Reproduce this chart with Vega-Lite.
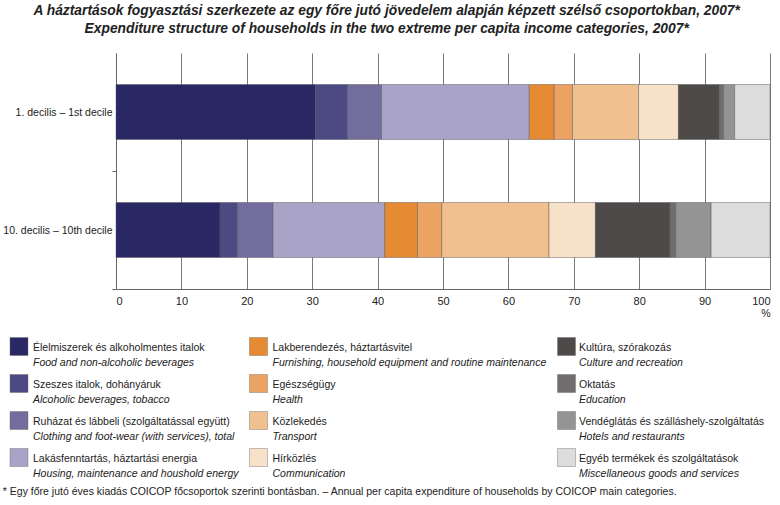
{
  "$schema": "https://vega.github.io/schema/vega-lite/v6.json",
  "padding": {"left": 2, "top": 4, "right": 2, "bottom": 4},
  "datasets": {
    "shares": [
      {"decile": "1. decilis – 1st decile", "coicop": 1, "category": "Food and non-alcoholic beverages", "share": 30.5},
      {"decile": "1. decilis – 1st decile", "coicop": 2, "category": "Alcoholic beverages, tobacco", "share": 4.9},
      {"decile": "1. decilis – 1st decile", "coicop": 3, "category": "Clothing and foot-wear (with services), total", "share": 5.2},
      {"decile": "1. decilis – 1st decile", "coicop": 4, "category": "Housing, maintenance and houshold energy", "share": 22.6},
      {"decile": "1. decilis – 1st decile", "coicop": 5, "category": "Furnishing, household equipment and routine maintenance", "share": 3.8},
      {"decile": "1. decilis – 1st decile", "coicop": 6, "category": "Health", "share": 2.8},
      {"decile": "1. decilis – 1st decile", "coicop": 7, "category": "Transport", "share": 10.1},
      {"decile": "1. decilis – 1st decile", "coicop": 8, "category": "Communication", "share": 6.1},
      {"decile": "1. decilis – 1st decile", "coicop": 9, "category": "Culture and recreation", "share": 6.2},
      {"decile": "1. decilis – 1st decile", "coicop": 10, "category": "Education", "share": 0.7},
      {"decile": "1. decilis – 1st decile", "coicop": 11, "category": "Hotels and restaurants", "share": 1.7},
      {"decile": "1. decilis – 1st decile", "coicop": 12, "category": "Miscellaneous goods and services", "share": 5.4},
      {"decile": "10. decilis – 10th decile", "coicop": 1, "category": "Food and non-alcoholic beverages", "share": 15.9},
      {"decile": "10. decilis – 10th decile", "coicop": 2, "category": "Alcoholic beverages, tobacco", "share": 2.7},
      {"decile": "10. decilis – 10th decile", "coicop": 3, "category": "Clothing and foot-wear (with services), total", "share": 5.4},
      {"decile": "10. decilis – 10th decile", "coicop": 4, "category": "Housing, maintenance and houshold energy", "share": 17.1},
      {"decile": "10. decilis – 10th decile", "coicop": 5, "category": "Furnishing, household equipment and routine maintenance", "share": 5.0},
      {"decile": "10. decilis – 10th decile", "coicop": 6, "category": "Health", "share": 3.7},
      {"decile": "10. decilis – 10th decile", "coicop": 7, "category": "Transport", "share": 16.4},
      {"decile": "10. decilis – 10th decile", "coicop": 8, "category": "Communication", "share": 7.1},
      {"decile": "10. decilis – 10th decile", "coicop": 9, "category": "Culture and recreation", "share": 11.4},
      {"decile": "10. decilis – 10th decile", "coicop": 10, "category": "Education", "share": 0.9},
      {"decile": "10. decilis – 10th decile", "coicop": 11, "category": "Hotels and restaurants", "share": 5.4},
      {"decile": "10. decilis – 10th decile", "coicop": 12, "category": "Miscellaneous goods and services", "share": 9.0}
    ],
    "cats": [
      {"category": "Food and non-alcoholic beverages", "hu": "Élelmiszerek és alkoholmentes italok"},
      {"category": "Alcoholic beverages, tobacco", "hu": "Szeszes italok, dohányáruk"},
      {"category": "Clothing and foot-wear (with services), total", "hu": "Ruházat és lábbeli (szolgáltatással együtt)"},
      {"category": "Housing, maintenance and houshold energy", "hu": "Lakásfenntartás, háztartási energia"},
      {"category": "Furnishing, household equipment and routine maintenance", "hu": "Lakberendezés, háztartásvitel"},
      {"category": "Health", "hu": "Egészségügy"},
      {"category": "Transport", "hu": "Közlekedés"},
      {"category": "Communication", "hu": "Hírközlés"},
      {"category": "Culture and recreation", "hu": "Kultúra, szórakozás"},
      {"category": "Education", "hu": "Oktatás"},
      {"category": "Hotels and restaurants", "hu": "Vendéglátás és szálláshely-szolgáltatás"},
      {"category": "Miscellaneous goods and services", "hu": "Egyéb termékek és szolgáltatások"}
    ]
  },
  "title": {
    "text": "* Egy főre jutó éves kiadás COICOP főcsoportok szerinti bontásban. – Annual per capita expenditure of households by COICOP main categories.",
    "orient": "bottom",
    "anchor": "start",
    "frame": "bounds",
    "font": "Liberation Sans",
    "fontSize": 10.5,
    "fontWeight": "normal",
    "color": "#222222",
    "offset": 8
  },
  "spacing": 9,
  "vconcat": [
    {
      "width": 654,
      "height": 236,
      "title": {
        "text": [
          "A háztartások fogyasztási szerkezete az egy főre jutó jövedelem alapján képzett szélső csoportokban, 2007*",
          "Expenditure structure of households in the two extreme per capita income categories, 2007*"
        ],
        "anchor": "middle",
        "frame": "bounds",
        "font": "Liberation Sans",
        "fontSize": 13.8,
        "fontWeight": "bold",
        "fontStyle": "italic",
        "color": "#222222",
        "lineHeight": 18,
        "offset": 17
      },
      "data": {"name": "shares"},
      "mark": {"type": "bar", "stroke": "#555555", "strokeOpacity": 0.45, "strokeWidth": 1},
      "encoding": {
        "y": {
          "field": "decile",
          "type": "nominal",
          "sort": ["1. decilis – 1st decile", "10. decilis – 10th decile"],
          "scale": {"paddingInner": 0.534, "paddingOuter": 0.267},
          "axis": {
            "title": null,
            "tickSize": 4,
            "tickOffset": 59,
            "labelOffset": -59,
            "labelPadding": 0,
            "labelFontSize": 10.5,
            "domainColor": "#666666",
            "tickColor": "#666666"
          }
        },
        "x": {
          "field": "share",
          "type": "quantitative",
          "stack": "zero",
          "scale": {"domain": [0, 100], "nice": false},
          "axis": {
            "values": [0, 10, 20, 30, 40, 50, 60, 70, 80, 90, 100],
            "title": "%",
            "titleAnchor": "end",
            "titleFontWeight": "normal",
            "titleFontSize": 10.5,
            "titlePadding": 2,
            "ticks": false,
            "labelPadding": 6,
            "grid": true,
            "gridColor": "#7a7a7a",
            "gridWidth": 1,
            "domainColor": "#666666"
          }
        },
        "order": {"field": "coicop", "type": "quantitative", "sort": "ascending"},
        "color": {
          "field": "category",
          "type": "nominal",
          "scale": {
            "domain": [
              "Food and non-alcoholic beverages", "Alcoholic beverages, tobacco", "Clothing and foot-wear (with services), total", "Housing, maintenance and houshold energy",
              "Furnishing, household equipment and routine maintenance", "Health", "Transport", "Communication",
              "Culture and recreation", "Education", "Hotels and restaurants", "Miscellaneous goods and services"
            ],
            "range": ["#2a2765", "#4d4982", "#736d9d", "#a9a3c8", "#e68b33", "#eba262", "#f0c08e", "#f8e1c9", "#4e4a49", "#6f6d6d", "#959494", "#dcdcdc"]
          },
          "legend": null
        }
      }
    },
    {
      "spacing": 1,
      "hconcat": [
        {
          "width": 2,
          "height": 148,
          "data": {"name": "cats"},
          "transform": [{"filter": {"field": "category", "oneOf": ["Food and non-alcoholic beverages", "Alcoholic beverages, tobacco", "Clothing and foot-wear (with services), total", "Housing, maintenance and houshold energy"]}}],
          "encoding": {
            "y": {"field": "category", "type": "nominal", "sort": ["Food and non-alcoholic beverages", "Alcoholic beverages, tobacco", "Clothing and foot-wear (with services), total", "Housing, maintenance and houshold energy"], "scale": {"type": "point", "padding": 0.5}, "axis": null}
          },
          "layer": [
            {
              "mark": {"type": "square", "size": 324, "xOffset": -98, "filled": true, "opacity": 1, "stroke": "#666666", "strokeOpacity": 0.5, "strokeWidth": 0.8},
              "encoding": {
                "color": {"field": "category", "type": "nominal", "legend": null,
                  "scale": {
                    "domain": ["Food and non-alcoholic beverages", "Alcoholic beverages, tobacco", "Clothing and foot-wear (with services), total", "Housing, maintenance and houshold energy", "Furnishing, household equipment and routine maintenance", "Health", "Transport", "Communication", "Culture and recreation", "Education", "Hotels and restaurants", "Miscellaneous goods and services"],
                    "range": ["#2a2765", "#4d4982", "#736d9d", "#a9a3c8", "#e68b33", "#eba262", "#f0c08e", "#f8e1c9", "#4e4a49", "#6f6d6d", "#959494", "#dcdcdc"]
                  }
                }
              }
            },
            {
              "mark": {"type": "text", "align": "left", "baseline": "middle", "dx": -84, "dy": 1, "fontSize": 10.5, "color": "#222222"},
              "encoding": {"text": {"field": "hu"}}
            },
            {
              "mark": {"type": "text", "align": "left", "baseline": "middle", "dx": -84, "dy": 16, "fontSize": 10.5, "fontStyle": "italic", "color": "#222222"},
              "encoding": {"text": {"field": "category"}}
            }
          ]
        },
        {
          "width": 37,
          "height": 148,
          "data": {"name": "cats"},
          "transform": [{"filter": {"field": "category", "oneOf": ["Furnishing, household equipment and routine maintenance", "Health", "Transport", "Communication"]}}],
          "encoding": {
            "y": {"field": "category", "type": "nominal", "sort": ["Furnishing, household equipment and routine maintenance", "Health", "Transport", "Communication"], "scale": {"type": "point", "padding": 0.5}, "axis": null}
          },
          "layer": [
            {
              "mark": {"type": "square", "size": 324, "filled": true, "opacity": 1, "stroke": "#666666", "strokeOpacity": 0.5, "strokeWidth": 0.8},
              "encoding": {
                "color": {"field": "category", "type": "nominal", "legend": null,
                  "scale": {
                    "domain": ["Food and non-alcoholic beverages", "Alcoholic beverages, tobacco", "Clothing and foot-wear (with services), total", "Housing, maintenance and houshold energy", "Furnishing, household equipment and routine maintenance", "Health", "Transport", "Communication", "Culture and recreation", "Education", "Hotels and restaurants", "Miscellaneous goods and services"],
                    "range": ["#2a2765", "#4d4982", "#736d9d", "#a9a3c8", "#e68b33", "#eba262", "#f0c08e", "#f8e1c9", "#4e4a49", "#6f6d6d", "#959494", "#dcdcdc"]
                  }
                }
              }
            },
            {
              "mark": {"type": "text", "align": "left", "baseline": "middle", "dx": 14, "dy": 1, "fontSize": 10.5, "color": "#222222"},
              "encoding": {"text": {"field": "hu"}}
            },
            {
              "mark": {"type": "text", "align": "left", "baseline": "middle", "dx": 14, "dy": 16, "fontSize": 10.5, "fontStyle": "italic", "color": "#222222"},
              "encoding": {"text": {"field": "category"}}
            }
          ]
        },
        {
          "width": 37,
          "height": 148,
          "data": {"name": "cats"},
          "transform": [{"filter": {"field": "category", "oneOf": ["Culture and recreation", "Education", "Hotels and restaurants", "Miscellaneous goods and services"]}}],
          "encoding": {
            "y": {"field": "category", "type": "nominal", "sort": ["Culture and recreation", "Education", "Hotels and restaurants", "Miscellaneous goods and services"], "scale": {"type": "point", "padding": 0.5}, "axis": null}
          },
          "layer": [
            {
              "mark": {"type": "square", "size": 324, "filled": true, "opacity": 1, "stroke": "#666666", "strokeOpacity": 0.5, "strokeWidth": 0.8},
              "encoding": {
                "color": {"field": "category", "type": "nominal", "legend": null,
                  "scale": {
                    "domain": ["Food and non-alcoholic beverages", "Alcoholic beverages, tobacco", "Clothing and foot-wear (with services), total", "Housing, maintenance and houshold energy", "Furnishing, household equipment and routine maintenance", "Health", "Transport", "Communication", "Culture and recreation", "Education", "Hotels and restaurants", "Miscellaneous goods and services"],
                    "range": ["#2a2765", "#4d4982", "#736d9d", "#a9a3c8", "#e68b33", "#eba262", "#f0c08e", "#f8e1c9", "#4e4a49", "#6f6d6d", "#959494", "#dcdcdc"]
                  }
                }
              }
            },
            {
              "mark": {"type": "text", "align": "left", "baseline": "middle", "dx": 12.5, "dy": 1, "fontSize": 10.5, "color": "#222222"},
              "encoding": {"text": {"field": "hu"}}
            },
            {
              "mark": {"type": "text", "align": "left", "baseline": "middle", "dx": 12.5, "dy": 16, "fontSize": 10.5, "fontStyle": "italic", "color": "#222222"},
              "encoding": {"text": {"field": "category"}}
            }
          ]
        }
      ]
    }
  ],
  "config": {
    "view": {"stroke": null},
    "font": "Liberation Sans",
    "axis": {"labelFont": "Liberation Sans", "labelFontSize": 11, "labelColor": "#222222", "titleFont": "Liberation Sans", "titleColor": "#222222"},
    "text": {"font": "Liberation Sans"}
  }
}
